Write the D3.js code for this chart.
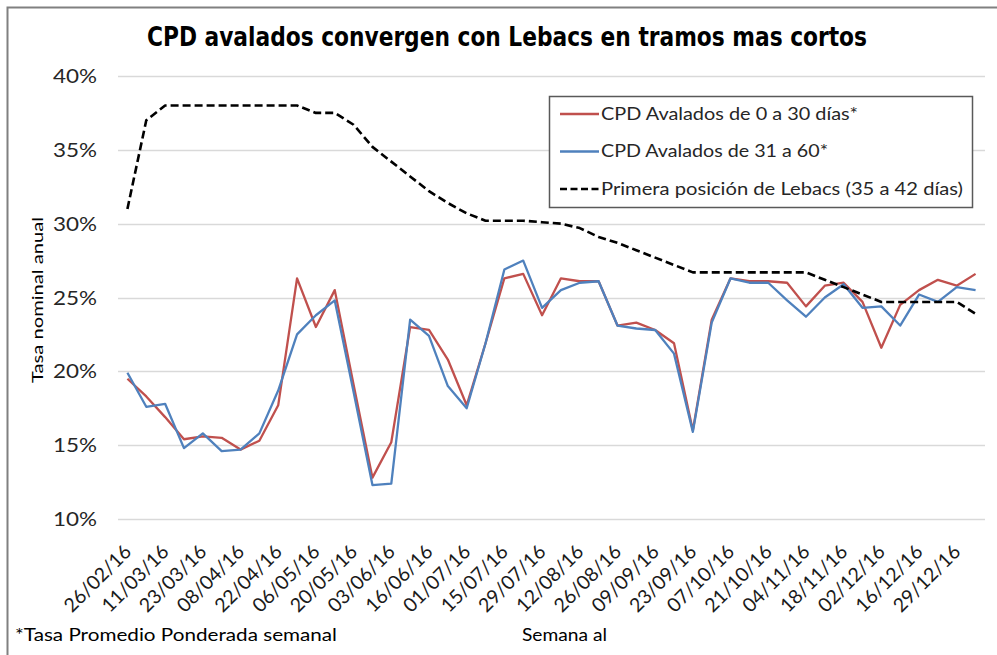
<!DOCTYPE html>
<html>
<head>
<meta charset="utf-8">
<script src="https://cdn.jsdelivr.net/npm/d3@7"></script>
<style>
  body { margin: 0; background: #fff; }
  svg { display: block; }
</style>
</head>
<body>
<svg id="chart"></svg>
<script>
// weekly dates (only every second one is labelled on the axis)
const semanas = [
  '26/02/16', '04/03/16', '11/03/16', '18/03/16', '23/03/16', '01/04/16',
  '08/04/16', '15/04/16', '22/04/16', '29/04/16', '06/05/16', '13/05/16',
  '20/05/16', '27/05/16', '03/06/16', '10/06/16', '16/06/16', '24/06/16',
  '01/07/16', '08/07/16', '15/07/16', '22/07/16', '29/07/16', '05/08/16',
  '12/08/16', '19/08/16', '26/08/16', '02/09/16', '09/09/16', '16/09/16',
  '23/09/16', '30/09/16', '07/10/16', '14/10/16', '21/10/16', '28/10/16',
  '04/11/16', '11/11/16', '18/11/16', '25/11/16', '02/12/16', '09/12/16',
  '16/12/16', '22/12/16', '29/12/16', '06/01/17'
];

// CPD avalados 0 a 30 dias (%)
const cpd0a30 = [
  19.5, 18.3, 16.9, 15.4, 15.6, 15.5, 14.7, 15.3, 17.7, 26.3,
  23.0, 25.5, 19.1, 12.8, 15.2, 23.0, 22.8, 20.8, 17.7, 21.9,
  26.3, 26.6, 23.8, 26.3, 26.1, 26.1, 23.1, 23.3, 22.8, 21.9,
  16.0, 23.5, 26.3, 26.1, 26.1, 26.0, 24.4, 25.8, 26.0, 24.7,
  21.6, 24.5, 25.5, 26.2, 25.8, 26.6
];

// CPD avalados 31 a 60 dias (%)
const cpd31a60 = [
  19.9, 17.6, 17.8, 14.8, 15.8, 14.6, 14.7, 15.8, 18.7, 22.5,
  23.8, 24.8, 18.6, 12.3, 12.4, 23.5, 22.4, 19.0, 17.5, 21.9,
  26.9, 27.5, 24.3, 25.5, 26.0, 26.1, 23.1, 22.9, 22.8, 21.2,
  15.9, 23.3, 26.3, 26.0, 26.0, 24.8, 23.7, 25.0, 25.9, 24.3,
  24.4, 23.1, 25.2, 24.7, 25.7, 25.5
];

// Primera posicion de Lebacs (%)
const lebacs = [
  31.0, 37.0, 38.0, 38.0, 38.0, 38.0, 38.0, 38.0, 38.0, 38.0,
  37.5, 37.5, 36.7, 35.2, 34.2, 33.2, 32.2, 31.4, 30.7, 30.2,
  30.2, 30.2, 30.1, 30.0, 29.7, 29.1, 28.7, 28.2, 27.7, 27.2,
  26.7, 26.7, 26.7, 26.7, 26.7, 26.7, 26.7, 26.2, 25.7, 25.2,
  24.7, 24.7, 24.7, 24.7, 24.7, 23.9
];

const yTicks = [10, 15, 20, 25, 30, 35, 40];

const series = [
  { name: 'CPD Avalados de 0 a 30 días*', values: cpd0a30, color: '#C0504D', dash: null, len: 257 },
  { name: 'CPD Avalados de 31 a 60*', values: cpd31a60, color: '#4F81BD', dash: null, len: 227 },
  { name: 'Primera posición de Lebacs (35 a 42 días)', values: lebacs, color: '#000000', dash: '8,4', len: 362 }
];

const svgWidth = 997;
const svgHeight = 655;
const margin = { top: 76, right: 12, bottom: 136, left: 118 };
const width = svgWidth - margin.left - margin.right;
const height = svgHeight - margin.top - margin.bottom;

const font = 'Lato, "Open Sans", sans-serif';

const svg = d3.select('#chart')
  .attr('width', svgWidth)
  .attr('height', svgHeight);

// outer frame (left + top edges visible in the original)
svg.append('path')
  .attr('d', `M7.5,${svgHeight} V7.5 H${svgWidth}`)
  .attr('fill', 'none')
  .attr('stroke', '#808080')
  .attr('stroke-width', 2);

// title
svg.append('text')
  .attr('x', 147)
  .attr('y', 46)
  .attr('textLength', 720)
  .attr('lengthAdjust', 'spacingAndGlyphs')
  .style('font-family', '"Liberation Sans Narrow", "DejaVu Sans Condensed", "Roboto Condensed", sans-serif')
  .style('font-weight', 'bold')
  .style('font-size', '27px')
  .attr('fill', '#000')
  .text('CPD avalados convergen con Lebacs en tramos mas cortos');

const g = svg.append('g')
  .attr('transform', `translate(${margin.left},${margin.top})`);

// scales
const xScale = d3.scaleBand()
  .domain(semanas)
  .range([0, width])
  .padding(0);

const yScale = d3.scaleLinear()
  .domain([10, 40])
  .range([height, 0]);

const xPos = (i) => xScale(semanas[i]) + xScale.bandwidth() / 2;

// gridlines
g.append('g')
  .selectAll('line')
  .data(yTicks)
  .enter()
  .append('line')
  .attr('x1', 0)
  .attr('x2', width)
  .attr('y1', (d) => Math.round(yScale(d)) + 0.5)
  .attr('y2', (d) => Math.round(yScale(d)) + 0.5)
  .attr('stroke', '#d9d9d9')
  .attr('stroke-width', 1.5);

// y axis labels
const yAxis = g.append('g')
  .attr('transform', 'translate(-21,0)')
  .call(d3.axisLeft(yScale).tickValues(yTicks).tickSize(0).tickFormat((d) => d + '%'));
yAxis.select('.domain').remove();
yAxis.selectAll('text')
  .attr('x', 0)
  .attr('dy', '0.35em')
  .attr('textLength', 44)
  .attr('lengthAdjust', 'spacingAndGlyphs')
  .style('font-family', font)
  .style('font-size', '19px')
  .attr('fill', '#262626');

// x axis labels, every second week, rotated
const xAxis = g.append('g')
  .attr('transform', `translate(0,${height})`)
  .call(d3.axisBottom(xScale)
    .tickValues(semanas.filter((d, i) => i % 2 === 0))
    .tickSize(0));
xAxis.select('.domain').remove();
xAxis.selectAll('text')
  .attr('y', 0)
  .attr('dy', 0)
  .attr('text-anchor', 'end')
  .attr('transform', 'translate(5,34) rotate(-45)')
  .style('font-family', font)
  .style('font-size', '19.5px')
  .attr('fill', '#1a1a1a');

// lines
const line = d3.line()
  .x((d, i) => xPos(i))
  .y((d) => yScale(d));

g.selectAll('.serie')
  .data(series)
  .enter()
  .append('path')
  .attr('class', 'serie')
  .attr('d', (s) => line(s.values))
  .attr('fill', 'none')
  .attr('stroke', (s) => s.color)
  .attr('stroke-width', (s) => (s.dash ? 2.6 : 2.3))
  .attr('stroke-dasharray', (s) => s.dash)
  .attr('stroke-linejoin', 'round');

// legend
const legend = svg.append('g');
legend.append('rect')
  .attr('x', 549.5)
  .attr('y', 96.5)
  .attr('width', 423)
  .attr('height', 111)
  .attr('fill', '#fff')
  .attr('stroke', '#595959')
  .attr('stroke-width', 1.5);

const item = legend.selectAll('.item')
  .data(series)
  .enter()
  .append('g')
  .attr('class', 'item')
  .attr('transform', (d, i) => `translate(560,${114 + i * 37.5})`);

item.append('line')
  .attr('x1', 0)
  .attr('x2', 39)
  .attr('stroke', (d) => d.color)
  .attr('stroke-width', (d) => (d.dash ? 2.6 : 2.3))
  .attr('stroke-dasharray', (d) => (d.dash ? '7,3.5' : null));

item.append('text')
  .attr('x', 41)
  .attr('dy', '0.35em')
  .attr('textLength', (d) => d.len)
  .attr('lengthAdjust', 'spacingAndGlyphs')
  .style('font-family', font)
  .style('font-size', '17px')
  .attr('fill', '#262626')
  .text((d) => d.name);

// axis titles and footnote
svg.append('text')
  .attr('transform', 'translate(43,300) rotate(-90)')
  .attr('text-anchor', 'middle')
  .attr('textLength', 166)
  .attr('lengthAdjust', 'spacingAndGlyphs')
  .style('font-family', font)
  .style('font-size', '16px')
  .attr('fill', '#000')
  .text('Tasa nominal anual');

svg.append('text')
  .attr('x', 15)
  .attr('y', 641)
  .attr('textLength', 322)
  .attr('lengthAdjust', 'spacingAndGlyphs')
  .style('font-family', font)
  .style('font-size', '18px')
  .attr('fill', '#000')
  .text('*Tasa Promedio Ponderada semanal');

svg.append('text')
  .attr('x', 522)
  .attr('y', 641)
  .attr('textLength', 85)
  .attr('lengthAdjust', 'spacingAndGlyphs')
  .style('font-family', font)
  .style('font-size', '18px')
  .attr('fill', '#000')
  .text('Semana al');
</script>
</body>
</html>
